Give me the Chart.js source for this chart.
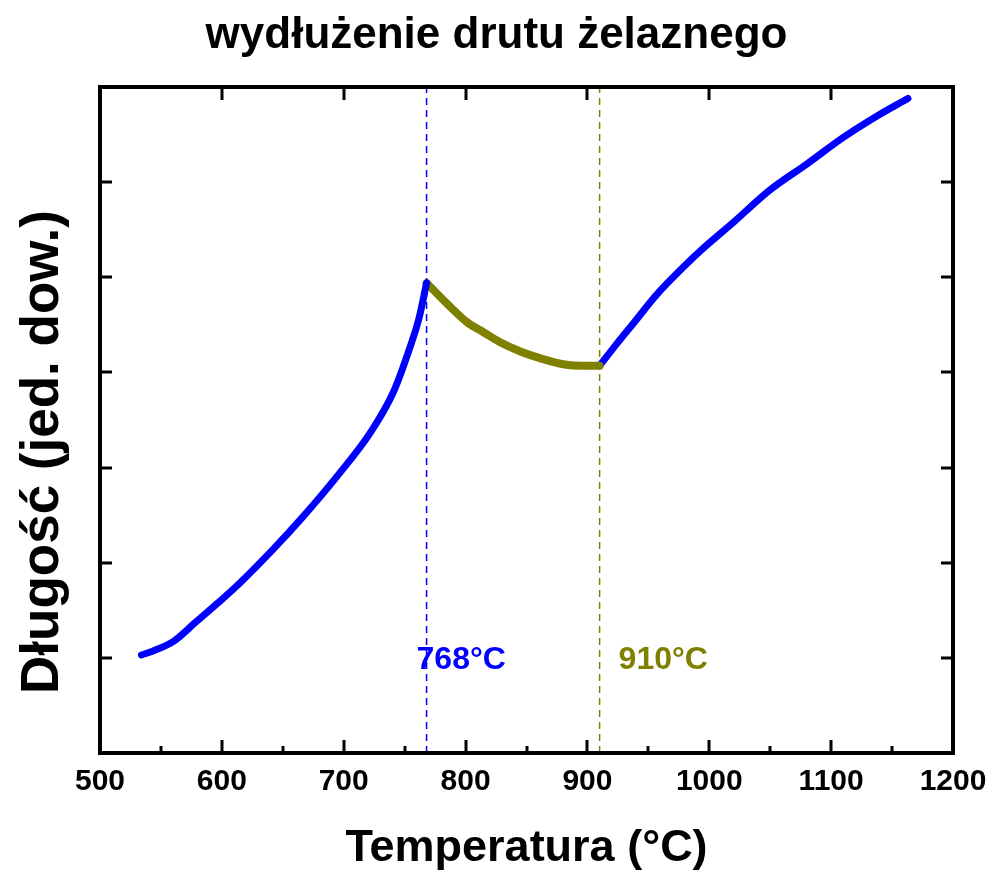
<!DOCTYPE html>
<html>
<head>
<meta charset="utf-8">
<title>wydłużenie drutu żelaznego</title>
<script src="https://cdn.jsdelivr.net/npm/chart.js@4.4.1/dist/chart.umd.min.js"></script>
<style>
  html, body { margin: 0; padding: 0; background: #fff; }
  #wrap { width: 993px; height: 876px; }
</style>
</head>
<body>
<div id="wrap"><canvas id="chart"></canvas></div>
<script>
// alpha iron, heating up to the Curie point
const tempA = [534, 545, 560, 579, 597, 615, 642, 667, 694, 722, 741, 754, 762, 768];
const lenA  = [1.03, 1.08, 1.17, 1.38, 1.58, 1.79, 2.14, 2.49, 2.90, 3.37, 3.80, 4.25, 4.58, 4.94];

// between 768 and 910 the wire shrinks
const tempB = [768, 785, 801, 815, 828, 845, 861, 883, 897, 910];
const lenB  = [4.94, 4.72, 4.53, 4.42, 4.32, 4.22, 4.15, 4.08, 4.07, 4.07];

// gamma iron above 910
const tempC = [910, 924, 938, 957, 975, 992, 1020, 1050, 1080, 1110, 1137, 1163];
const lenC  = [4.07, 4.30, 4.52, 4.82, 5.06, 5.27, 5.58, 5.92, 6.19, 6.47, 6.69, 6.88];

const markTemps  = [768, 910];
const markLabels = ['768°C', '910°C'];

const xTicks = [500, 600, 700, 800, 900, 1000, 1100, 1200];

const BLUE = '#0000ff';
const OLIVE = '#808000';
const markColors = [BLUE, OLIVE];
const FONT = "'Liberation Sans', Arial, sans-serif";

function pts(xs, ys) {
    return xs.map((x, i) => ({ x: x, y: ys[i] }));
}

const curve = (data, color, w) => ({
    data: data,
    borderColor: color,
    borderWidth: w,
    pointRadius: 0,
    cubicInterpolationMode: 'monotone',
    borderCapStyle: 'round',
    borderJoinStyle: 'round',
    fill: false
});

const markLine = (t, color) => ({
    data: [{ x: t, y: 0 }, { x: t, y: 7 }],
    borderColor: color,
    borderWidth: 1.5,
    borderDash: [7, 5],
    pointRadius: 0,
    fill: false
});

// frame with inward ticks, text labels and the y title
const framePlugin = {
    id: 'frame',
    afterDatasetsDraw(chart) {
        const { ctx, chartArea: a, scales } = chart;
        const xs = scales.x, ys = scales.y;
        ctx.save();
        ctx.strokeStyle = '#000';
        ctx.lineWidth = 3;
        ctx.lineCap = 'butt';
        ctx.beginPath();
        for (let v = 550; v < 1200; v += 50) {
            const px = Math.round(xs.getPixelForValue(v));
            const major = v % 100 === 0;
            ctx.moveTo(px, a.bottom);
            ctx.lineTo(px, a.bottom - (major ? 13 : 7));
            if (major) {
                ctx.moveTo(px, a.top);
                ctx.lineTo(px, a.top + 13);
            }
        }
        for (let v = 1; v < 7; v++) {
            const py = Math.round(ys.getPixelForValue(v));
            ctx.moveTo(a.left, py);
            ctx.lineTo(a.left + 12, py);
            ctx.moveTo(a.right, py);
            ctx.lineTo(a.right - 12, py);
        }
        ctx.stroke();

        ctx.lineWidth = 4;
        ctx.lineJoin = 'miter';
        ctx.strokeRect(a.left, a.top, a.right - a.left, a.bottom - a.top);

        ctx.font = 'bold 32px ' + FONT;
        ctx.textBaseline = 'middle';
        ctx.textAlign = 'left';
        markTemps.forEach((t, i) => {
            ctx.fillStyle = markColors[i];
            const dx = i === 0 ? -10 : 19;
            ctx.fillText(markLabels[i], xs.getPixelForValue(t) + dx, ys.getPixelForValue(0.98));
        });

        ctx.fillStyle = '#000';
        ctx.font = 'bold 53px ' + FONT;
        ctx.textAlign = 'center';
        ctx.translate(43, 452);
        ctx.rotate(-Math.PI / 2);
        ctx.fillText('Długość (jed. dow.)', 0, 0);
        ctx.restore();
    }
};

new Chart(document.getElementById('chart'), {
    type: 'line',
    data: {
        datasets: [
            markLine(markTemps[0], BLUE),
            markLine(markTemps[1], OLIVE),
            curve(pts(tempA, lenA), BLUE, 7),
            curve(pts(tempB, lenB), OLIVE, 8),
            curve(pts(tempC, lenC), BLUE, 7)
        ]
    },
    options: {
        responsive: true,
        maintainAspectRatio: false,
        animation: false,
        layout: { padding: 0 },
        plugins: {
            legend: { display: false },
            tooltip: { enabled: false },
            title: {
                display: true,
                text: 'wydłużenie drutu żelaznego',
                color: '#000',
                font: { family: FONT, size: 44, weight: 'bold' },
                padding: { top: 9, bottom: 25.2 }
            }
        },
        scales: {
            x: {
                type: 'linear',
                min: 500,
                max: 1200,
                afterFit: s => {
                    s.height = 123;
                    s.paddingLeft = 0;
                    s.paddingRight = 0;
                },
                afterBuildTicks: s => { s.ticks = xTicks.map(v => ({ value: v })); },
                grid: { display: false, drawTicks: false },
                border: { display: false },
                ticks: {
                    color: '#000',
                    padding: 11,
                    maxRotation: 0,
                    callback: v => String(v),
                    font: { family: FONT, size: 30, weight: 'bold' }
                },
                title: {
                    display: true,
                    text: 'Temperatura (°C)',
                    color: '#000',
                    font: { family: FONT, size: 45, weight: 'bold' },
                    padding: { top: 0, bottom: 0 }
                }
            },
            y: {
                min: 0,
                max: 7,
                afterFit: s => { s.width = 100; },
                grid: { display: false, drawTicks: false },
                border: { display: false },
                ticks: { display: false }
            },
            // empty strip on the right of the frame
            yRight: {
                position: 'right',
                min: 0,
                max: 7,
                afterFit: s => { s.width = 40; },
                grid: { display: false, drawTicks: false },
                border: { display: false },
                ticks: { display: false }
            }
        }
    },
    plugins: [framePlugin]
});
</script>
</body>
</html>
